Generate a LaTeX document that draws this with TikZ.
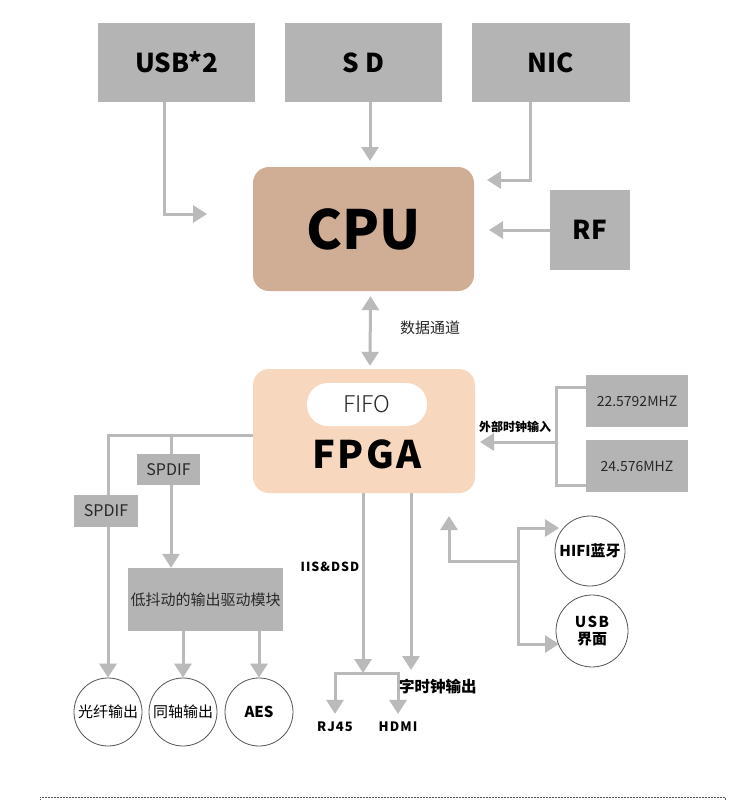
\documentclass[tikz,border=0pt]{standalone}
\usepackage{fontspec}
\setmainfont{Noto Sans CJK SC}
\newfontfamily\lightfont{Noto Sans CJK SC Light}
\usetikzlibrary{positioning,arrows.meta,calc,backgrounds}
\definecolor{boxgray}{RGB}{180,180,180}
\definecolor{linegray}{RGB}{186,186,186}
\definecolor{cpubrown}{RGB}{208,174,150}
\definecolor{fpgapeach}{RGB}{247,216,191}
\definecolor{ringgray}{RGB}{85,85,85}
\definecolor{inkdark}{RGB}{40,40,40}

\begin{document}
\begin{tikzpicture}[x=1pt, y=-1pt,
    gbox/.style={fill=boxgray, inner sep=0pt, text=black, font=\bfseries\fontsize{26}{26}\selectfont},
    smallbox/.style={fill=boxgray, inner sep=0pt, text=inkdark, font=\fontsize{15}{15}\selectfont},
    chip/.style={rounded corners=16pt, inner sep=0pt},
    ring/.style={circle, draw=ringgray, line width=0.8pt, fill=white, inner sep=0pt, align=center, font=\fontsize{15}{17}\selectfont},
    tag/.style={inner sep=0pt, text=black, font=\bfseries\fontsize{13}{13}\selectfont},
    arrow/.style={-{Triangle[length=14pt,width=17pt]}, line width=3pt, draw=linegray},
    dblarrow/.style={{Triangle[length=14pt,width=17pt]}-{Triangle[length=14pt,width=17pt]}, line width=3pt, draw=linegray},
    wire/.style={line width=3pt, draw=linegray}
]
    \useasboundingbox (0,0) rectangle (747,800);

    % Top inputs
    \node[gbox, minimum width=157pt, minimum height=79pt] (usb) at (176.5,62.5) {USB*2};
    \node[gbox, minimum width=157pt, minimum height=79pt] (sd) at (363.5,62.5) {S D};
    \node[gbox, minimum width=158pt, minimum height=79pt] (nic) at (551,62.5) {NIC};
    \node[gbox, minimum width=80pt, minimum height=80pt] (rf) at (590,230) {RF};

    % CPU
    \node[chip, fill=cpubrown, minimum width=221pt, minimum height=124pt, font=\bfseries\fontsize{54}{54}\selectfont] (cpu) at (363.5,229) {CPU};

    % FPGA
    \node[chip, fill=fpgapeach, minimum width=222pt, minimum height=124pt] (fpga) at (364,431) {};
    \node[rounded corners=21pt, fill=white, minimum width=120pt, minimum height=43pt, inner sep=0pt, text=inkdark, font=\lightfont\fontsize{23}{23}\selectfont] (fifo) at (367,404.5) {FIFO};
    \node[inner sep=0pt, font=\bfseries\fontsize{38}{38}\selectfont\addfontfeature{LetterSpace=6}] (fpgatext) at (367,454) {FPGA};
    \node[inner sep=0pt, text=inkdark, font=\fontsize{15}{15}\selectfont] (datalbl) at (430,328) {数据通道};

    % Clocks
    \node[smallbox, font=\fontsize{14}{14}\selectfont, minimum width=102pt, minimum height=52pt] (clka) at (637,401) {22.5792MHZ};
    \node[smallbox, font=\fontsize{14}{14}\selectfont, minimum width=102pt, minimum height=52pt] (clkb) at (637,466) {24.576MHZ};
    \node[tag, font=\bfseries\fontsize{12}{12}\selectfont] (clklbl) at (515,427) {外部时钟输入};

    % SPDIF outputs
    \node[smallbox, font=\fontsize{16}{16}\selectfont, minimum width=63pt, minimum height=31pt] (spdifa) at (168.5,469.5) {SPDIF};
    \node[smallbox, font=\fontsize{16}{16}\selectfont, minimum width=64pt, minimum height=32pt] (spdifb) at (106,511) {SPDIF};
    \node[smallbox, minimum width=155pt, minimum height=63pt] (drv) at (205.5,599.5) {低抖动的输出驱动模块};
    \node[ring, minimum size=68pt] (fiber) at (108,712) {光纤输出};
    \node[ring, minimum size=68pt] (coax) at (183,712) {同轴输出};
    \node[ring, minimum size=68pt, font=\bfseries\fontsize{15}{17}\selectfont] (aes) at (259,712) {AES};

    % I2S outputs
    \node[tag, font=\bfseries\fontsize{12.5}{12.5}\selectfont\addfontfeature{LetterSpace=8}] (iislbl) at (330,567) {IIS\&DSD};
    \node[tag, font=\bfseries\fontsize{13}{13}\selectfont\addfontfeature{LetterSpace=8}] (rj45) at (335,727) {RJ45};
    \node[tag, font=\bfseries\fontsize{13}{13}\selectfont\addfontfeature{LetterSpace=8}] (hdmi) at (398,727) {HDMI};
    \node[tag, anchor=west, font=\bfseries\fontsize{15.5}{15.5}\selectfont] (wclk) at (399,687) {字时钟输出};

    % Bluetooth / USB
    \node[ring, minimum size=70pt, font=\bfseries\fontsize{15}{17}\selectfont] (hifi) at (590,551) {HIFI蓝牙};
    \node[ring, minimum size=72pt, font=\bfseries\fontsize{15}{17}\selectfont] (usbui) at (592,631) {{\addfontfeature{LetterSpace=10}USB}\\界面};

    % Free ends
    \coordinate (usbend) at (207,214);
    \coordinate (sdend) at (370,161);
    \coordinate (nicend) at (487,180);
    \coordinate (rfend) at (489,230);
    \coordinate (clkjoin) at (556,442);
    \coordinate (clkend) at (480,442);
    \coordinate (tapa) at (171,435);
    \coordinate (split) at (363,673);
    \coordinate (wclkend) at (411,670);
    \coordinate (btup) at (449,516);
    \coordinate (btfork) at (518,561);
    \coordinate (hifiin) at (559,528);
    \coordinate (usbin) at (559,644);

    % Arrows
    \begin{scope}[on background layer]
    \fill[white] (0,0) rectangle (747,800);
    \draw[arrow] ([xshift=-12pt]usb.south) |- (usbend);
    \draw[arrow] (sd.south -| sdend) -- (sdend);
    \draw[arrow] ([xshift=-21pt]nic.south) |- (nicend);
    \draw[arrow] (rf.west) -- (rfend);
    \draw[dblarrow] ([xshift=7pt,yshift=-5pt]cpu.south) -- ([xshift=6pt,yshift=3pt]fpga.north);
    \draw[wire] ([yshift=14pt]clka.west) -| (clkjoin) |- ([yshift=-19pt]clkb.west);
    \draw[arrow] (clkjoin) -- (clkend);
    \draw[arrow] ([yshift=-4pt]fpga.west) -| (fiber.north);
    \draw[arrow] (tapa) -- (tapa |- drv.north);
    \draw[arrow] (drv.south -| coax.north) -- (coax.north);
    \draw[arrow] (drv.south -| aes.north) -- (aes.north);
    \draw[arrow] (fpga.south -| split) -- (split);
    \draw[arrow] (split) -| ([yshift=8pt]rj45.north);
    \draw[arrow] (split) -| ([yshift=8pt]hdmi.north);
    \draw[arrow] (fpga.south -| wclkend) -- (wclkend);
    \draw[arrow] (btfork) -| (btup);
    \draw[arrow] (btfork) |- (hifiin);
    \draw[arrow] (btfork) |- (usbin);
    \end{scope}

    % Frame below
    \draw[draw=ringgray, line width=0.6pt, dash pattern=on 2pt off 1pt] (40,801) |- (725,797) -- (725,801);
\end{tikzpicture}
\end{document}
